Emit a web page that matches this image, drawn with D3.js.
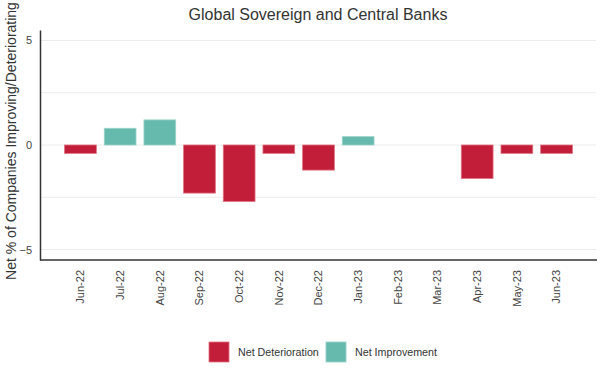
<!DOCTYPE html>
<html><head><meta charset="utf-8">
<script src="https://cdn.jsdelivr.net/npm/d3@7"></script>
<style>body{margin:0;background:#fff;}svg{display:block;font-family:"Liberation Sans",Arial,sans-serif;}</style>
</head><body>
<svg id="c" width="605" height="378"></svg>
<script>
const categories = ["Jun-22","Jul-22","Aug-22","Sep-22","Oct-22","Nov-22","Dec-22","Jan-23","Feb-23","Mar-23","Apr-23","May-23","Jun-23"];
const values = [-0.4, 0.8, 1.2, -2.3, -2.7, -0.4, -1.2, 0.4, 0, 0, -1.6, -0.4, -0.4];
const yTicks = [-5, 0, 5];
const gridTicks = [-5, -2.5, 0, 2.5, 5];
const seriesNames = ["Net Deterioration", "Net Improvement"];
const seriesColors = ["#C21E3A", "#66BAAD"];
const strokeColors = ["#E0707F", "#9AD3C9"];

const svg = d3.select("#c");
const L = 40, R = 597, T = 30, B = 260;
const x = d3.scaleBand().domain(categories).range([L, R]).paddingInner(0.2).paddingOuter(0.62);
const y = d3.scaleLinear().domain([-5.5, 5.5]).range([B, T]);

// grid
svg.append("g").selectAll("line").data(gridTicks).join("line")
  .attr("x1", L).attr("x2", R - 1).attr("y1", d => y(d)).attr("y2", d => y(d))
  .attr("stroke", "#ececec").attr("stroke-width", 1);

// bars
svg.append("g").selectAll("rect").data(values.map((v, i) => ({c: categories[i], v})).filter(d => d.v !== 0)).join("rect")
  .attr("x", d => x(d.c)).attr("width", x.bandwidth())
  .attr("y", d => y(Math.max(0, d.v))).attr("height", d => Math.abs(y(d.v) - y(0)))
  .attr("fill", d => d.v < 0 ? seriesColors[0] : seriesColors[1])
  .attr("stroke", d => d.v < 0 ? strokeColors[0] : strokeColors[1]).attr("stroke-width", 0.8);

// y axis
const ya = svg.append("g").attr("transform", `translate(${L},0)`)
  .call(d3.axisLeft(y).tickValues(yTicks).tickSize(0).tickPadding(8));
ya.select(".domain").attr("stroke", "#333").attr("stroke-width", 1.5);
ya.selectAll("text").attr("fill", "#444").attr("font-size", 11).attr("font-family", "Liberation Sans, Arial, sans-serif");

// x axis
const xa = svg.append("g").attr("transform", `translate(0,${B})`)
  .call(d3.axisBottom(x).tickSize(0).tickPadding(8));
xa.select(".domain").attr("d", `M${L},0H${R}`).attr("stroke", "#333").attr("stroke-width", 1.5);
xa.selectAll("text").attr("fill", "#444").attr("font-size", 11).attr("font-family", "Liberation Sans, Arial, sans-serif")
  .attr("transform", "rotate(-90)").attr("text-anchor", "end").attr("dx", "-10").attr("dy", "0.35em").attr("y", 0).attr("x", 0);

// title
svg.append("text").attr("x", 318).attr("y", 20).attr("text-anchor", "middle")
  .attr("font-size", 16).attr("fill", "#333").text("Global Sovereign and Central Banks");

// y title
svg.append("text").attr("transform", `translate(16,141) rotate(-90)`).attr("text-anchor", "middle")
  .attr("font-size", 14).attr("fill", "#333").text("Net % of Companies Improving/Deteriorating");

// legend
const leg = svg.append("g");
const lx = [209, 326];
seriesNames.forEach((n, i) => {
  leg.append("rect").attr("x", lx[i]).attr("y", 342).attr("width", 20).attr("height", 20)
    .attr("fill", seriesColors[i]).attr("stroke", strokeColors[i]).attr("stroke-width", 0.8);
  leg.append("text").attr("x", lx[i] + 29).attr("y", 356).attr("font-size", 10.7).attr("fill", "#333").text(n);
});
</script>
</body></html>
